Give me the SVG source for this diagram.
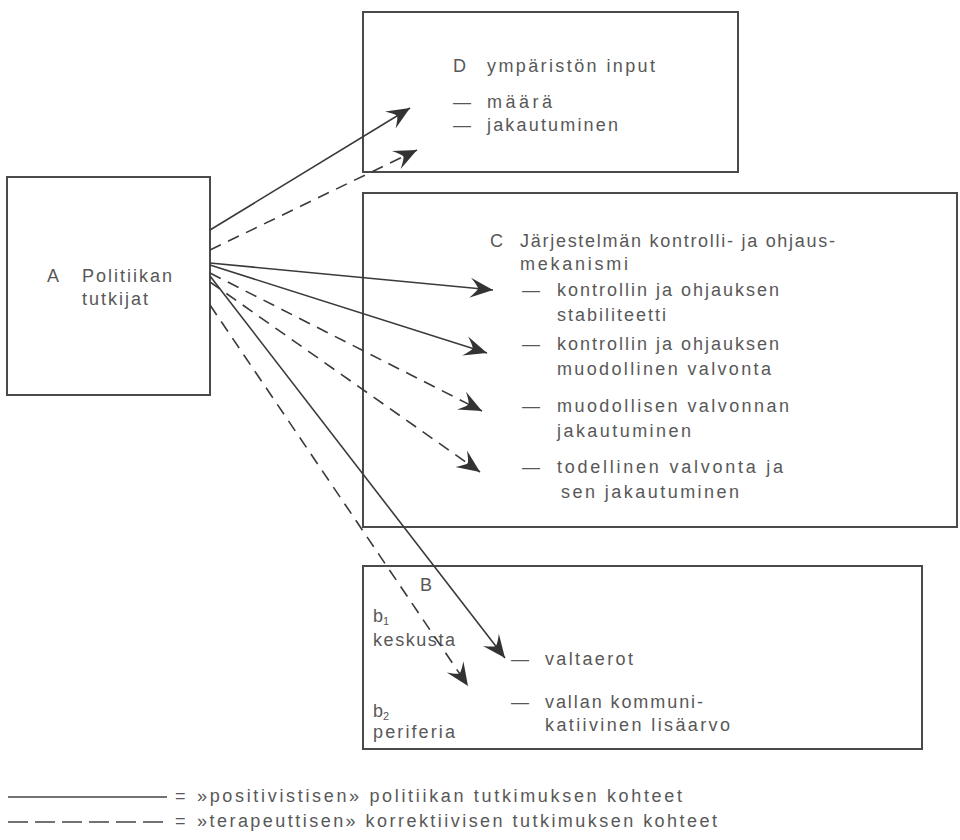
<svg xmlns="http://www.w3.org/2000/svg" width="960" height="840" viewBox="0 0 960 840">
<style>
  .box { fill: none; stroke: #4a4a4a; stroke-width: 2; }
  .t { font-family: "Liberation Sans", Arial, sans-serif; font-size: 18px; fill: #585858; }
  .sub { font-size: 11px; }
  .ln { fill: none; stroke: #3a3a3a; stroke-width: 1.6; }
  .solid { marker-end: url(#ah); }
  .dash { stroke-dasharray: 12 8; marker-end: url(#ah); }
  .leg { fill: none; stroke: #444; stroke-width: 1.5; }
</style>
<defs>
  <marker id="ah" markerUnits="userSpaceOnUse" markerWidth="26" markerHeight="26" viewBox="-24 -12 26 24" refX="0" refY="0" orient="auto">
    <path d="M0,0 L-23,-10 Q-16,-3 -15,0 Q-16,3 -23,10 Z" fill="#333"/>
  </marker>
</defs>
<rect width="960" height="840" fill="#fff"/>

<g id="nodeD">
  <rect class="box" x="363" y="12" width="375" height="160"/>
  <text class="t" x="453" y="72">D</text>
  <text class="t" x="487" y="72" textLength="168" lengthAdjust="spacing">ympäristön input</text>
  <text class="t" x="453" y="108">—</text>
  <text class="t" x="487" y="108" textLength="65" lengthAdjust="spacing">määrä</text>
  <text class="t" x="453" y="131">—</text>
  <text class="t" x="487" y="131" textLength="131" lengthAdjust="spacing">jakautuminen</text>
</g>

<g id="nodeC">
  <rect class="box" x="363" y="193" width="594" height="334"/>
  <text class="t" x="490" y="247">C</text>
  <text class="t" x="520" y="247" textLength="315" lengthAdjust="spacing">Järjestelmän kontrolli- ja ohjaus-</text>
  <text class="t" x="520" y="270" textLength="108" lengthAdjust="spacing">mekanismi</text>
  <text class="t" x="522" y="296">—</text>
  <text class="t" x="557" y="296" textLength="222" lengthAdjust="spacing">kontrollin ja ohjauksen</text>
  <text class="t" x="557" y="321" textLength="109" lengthAdjust="spacing">stabiliteetti</text>
  <text class="t" x="522" y="350">—</text>
  <text class="t" x="557" y="350" textLength="222" lengthAdjust="spacing">kontrollin ja ohjauksen</text>
  <text class="t" x="557" y="375" textLength="214" lengthAdjust="spacing">muodollinen valvonta</text>
  <text class="t" x="522" y="412">—</text>
  <text class="t" x="557" y="412" textLength="232" lengthAdjust="spacing">muodollisen valvonnan</text>
  <text class="t" x="557" y="437" textLength="134" lengthAdjust="spacing">jakautuminen</text>
  <text class="t" x="522" y="473">—</text>
  <text class="t" x="557" y="473" textLength="226" lengthAdjust="spacing">todellinen valvonta ja</text>
  <text class="t" x="561" y="498" textLength="178" lengthAdjust="spacing">sen jakautuminen</text>
</g>

<g id="nodeA">
  <rect class="box" x="7" y="177" width="203" height="218"/>
  <text class="t" x="47" y="282">A</text>
  <text class="t" x="82" y="282" textLength="90" lengthAdjust="spacing">Politiikan</text>
  <text class="t" x="82" y="305" textLength="66" lengthAdjust="spacing">tutkijat</text>
</g>

<g id="nodeB">
  <rect class="box" x="363" y="566" width="559" height="183"/>
  <text class="t" x="420" y="591">B</text>
  <text class="t" x="373" y="622">b<tspan class="sub" dy="3">1</tspan></text>
  <text class="t" x="373" y="646" textLength="82" lengthAdjust="spacing">keskusta</text>
  <text class="t" x="511" y="665">—</text>
  <text class="t" x="545" y="665" textLength="88" lengthAdjust="spacing">valtaerot</text>
  <text class="t" x="511" y="708">—</text>
  <text class="t" x="545" y="708" textLength="158" lengthAdjust="spacing">vallan kommuni-</text>
  <text class="t" x="545" y="731" textLength="185" lengthAdjust="spacing">katiivinen lisäarvo</text>
  <text class="t" x="373" y="717">b<tspan class="sub" dy="3">2</tspan></text>
  <text class="t" x="373" y="738" textLength="82" lengthAdjust="spacing">periferia</text>
</g>

<g id="connectors">
  <line class="ln solid" x1="210" y1="230" x2="410" y2="108"/>
  <line class="ln dash" x1="210" y1="250" x2="417" y2="150"/>
  <line class="ln solid" x1="210" y1="263" x2="493" y2="290"/>
  <line class="ln solid" x1="210" y1="265" x2="487" y2="353"/>
  <line class="ln dash" x1="210" y1="273" x2="482" y2="411"/>
  <line class="ln dash" x1="210" y1="282" x2="480" y2="472"/>
  <line class="ln solid" x1="210" y1="276" x2="505" y2="658"/>
  <line class="ln dash" x1="210" y1="305" x2="468" y2="686"/>
</g>

<g id="legend">
  <line class="leg" x1="8" y1="797" x2="167" y2="797"/>
  <text class="t" x="175" y="802">=</text>
  <text class="t" x="197" y="802" textLength="485" lengthAdjust="spacing">»positivistisen» politiikan tutkimuksen kohteet</text>
  <line class="leg" x1="8" y1="822" x2="167" y2="822" stroke-dasharray="20 7"/>
  <text class="t" x="175" y="827">=</text>
  <text class="t" x="197" y="827" textLength="520" lengthAdjust="spacing">»terapeuttisen» korrektiivisen tutkimuksen kohteet</text>
</g>
</svg>
